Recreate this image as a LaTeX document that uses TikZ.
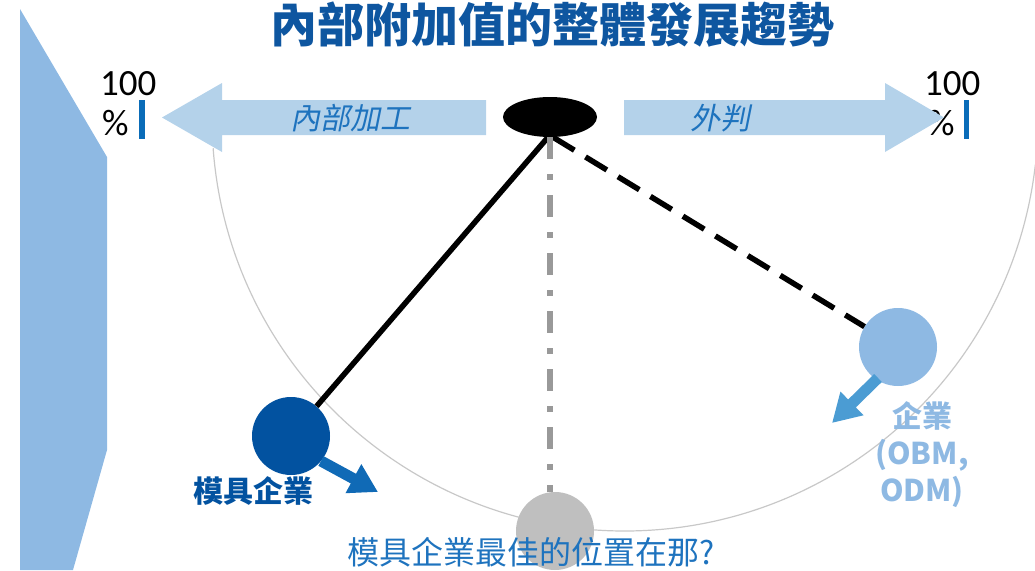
\documentclass[tikz,border=0pt]{standalone}
\usepackage{fontspec}
\usetikzlibrary{shapes.geometric,arrows.meta}
\newfontfamily\cjk{Noto Sans CJK TC}
\newfontfamily\cjkslant[FakeSlant=0.2]{Noto Sans CJK TC}
\newfontfamily\numfont{Carlito}
\definecolor{titleblue}{RGB}{14,86,160}
\definecolor{panelblue}{RGB}{142,185,227}
\definecolor{arrowpale}{RGB}{180,210,234}
\definecolor{darkdot}{RGB}{2,82,160}
\definecolor{midblue}{RGB}{16,106,182}
\definecolor{skyarrow}{RGB}{75,156,211}
\definecolor{textblue}{RGB}{30,115,190}
\definecolor{graydot}{RGB}{191,191,191}
\definecolor{grayline}{RGB}{153,153,153}
\definecolor{arcgray}{RGB}{200,200,200}
\definecolor{barblue}{RGB}{10,108,184}
\tikzset{
  dotnode/.style={circle, minimum size=78pt, inner sep=0pt, draw=none},
  pctlabel/.style={font=\numfont\fontsize{37}{40}\selectfont, anchor=base west, inner sep=0pt},
  bararrow/.style={line width=11pt, -{Triangle[width=31pt,length=28pt]}},
  pole/.style={line width=5.5pt},
}
\begin{document}
\begin{tikzpicture}[x=1pt,y=-1pt]
\useasboundingbox (0,0) rectangle (1035,570);
% side panel
\fill[panelblue] (20,9) -- (107,157) -- (107,450) -- (73,570) -- (20,570) -- cycle;
% arc
\draw[arcgray, line width=1.2pt] (625,118) ++(184.2:413pt) arc[start angle=184.2,end angle=353.5,radius=413pt];
% title
\node[font=\cjk\bfseries\fontsize{47}{50}\selectfont, text=titleblue] (title) at (552,25) {內部附加值的整體發展趨勢};
% percent labels
\node[pctlabel] (l100) at (100,95) {100};
\node[pctlabel] (lpct) at (102,135) {\%};
\node[pctlabel] (r100) at (924,95) {100};
\node[pctlabel] (rpct) at (928,135) {\%};
\fill[barblue] (139,100) rectangle (145,139);
\fill[barblue] (964,100) rectangle (969,139);
% big arrows
\fill[arrowpale] (486,100) -- (222,100) -- (222,83) -- (162,117.5) -- (222,152) -- (222,135) -- (486,135) -- cycle;
\fill[arrowpale] (624,100) -- (885,100) -- (885,83) -- (944,117.5) -- (885,152) -- (885,135) -- (624,135) -- cycle;
\node[font=\cjkslant\fontsize{30}{32}\selectfont, text=textblue] (inner) at (350,118) {內部加工};
\node[font=\cjkslant\fontsize{30}{32}\selectfont, text=textblue] (outer) at (720,118) {外判};
% pivot and circles
\node[ellipse, fill=black, minimum width=94pt, minimum height=40pt, inner sep=0pt] (pivot) at (550,117) {};
\node[dotnode, fill=darkdot] (c1) at (291,436) {};
\node[dotnode, fill=graydot] (c2) at (555,531) {};
\node[dotnode, fill=panelblue] (c3) at (898,347) {};
% poles
\draw[pole] ([xshift=-2pt]pivot.south) -- (c1);
\draw[pole, dash pattern=on 25pt off 13pt] ([xshift=3pt]pivot.south) -- (c3);
\draw[pole, grayline, dash pattern=on 22pt off 15pt on 6pt off 15pt] (pivot.south) -- (pivot.south |- c2.north);
% small arrows
\coordinate (a1s) at (321,461);
\coordinate (a1e) at (378,492);
\draw[bararrow, midblue] (a1s) -- (a1e);
\coordinate (a3s) at (878,378);
\coordinate (a3e) at (832,423);
\draw[bararrow, skyarrow] (a3s) -- (a3e);
% labels
\node[font=\cjk\bfseries\fontsize{30}{32}\selectfont, text=darkdot] (lab1) at (253,491) {模具企業};
\node[font=\cjk\bfseries\fontsize{30}{37}\selectfont, text=panelblue, align=center] (lab3) at (922,455) {企業\\(OBM,\\ODM)};
\node[font=\cjk\fontsize{32}{34}\selectfont, text=textblue] (question) at (531,552) {模具企業最佳的位置在那?};
\end{tikzpicture}
\end{document}
